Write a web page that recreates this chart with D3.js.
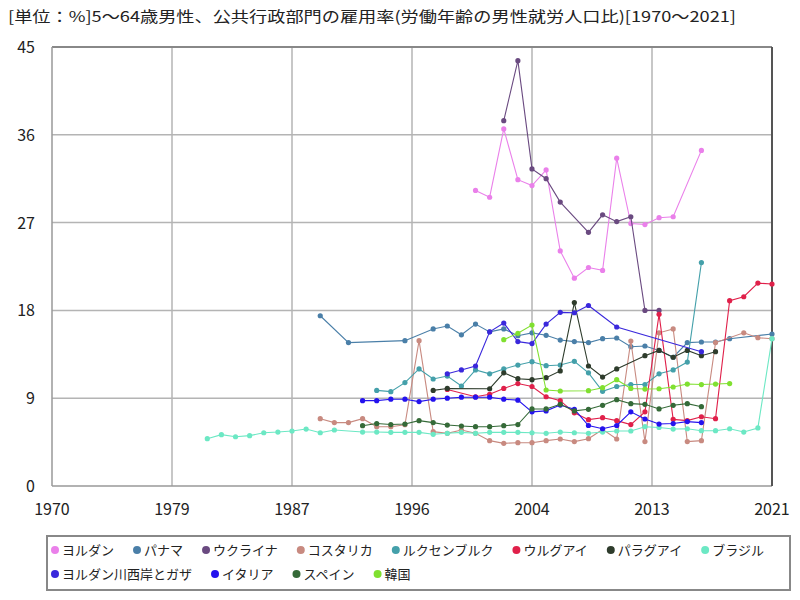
<!DOCTYPE html>
<html lang="ja">
<head>
  <meta charset="UTF-8" />
  <title>公共行政部門の雇用率</title>
  <script src="https://d3js.org/d3.v7.min.js"></script>
  <style>
    body { margin: 0; background: #fff; font-family: 'Noto Sans CJK JP', sans-serif; }
    .grid line { stroke: #b4b4b4; stroke-width: 1.5; }
    .tick-label { font-size: 16px; fill: #222; }
    .legend-text { font-size: 13px; fill: #222; }
  </style>
</head>
<body>
  <svg id="chart" width="800" height="600"></svg>

  <script>
    // year/value pairs (%)
    const jordan = [[2000,30.3],[2001,29.6],[2002,36.6],[2003,31.4],[2004,30.8],[2005,32.4],[2006,24.1],[2007,21.3],[2008,22.4],[2009,22.1],[2010,33.6],[2011,26.9],[2012,26.8],[2013,27.5],[2014,27.6],[2016,34.4]];
    const panama = [[1989,17.45],[1991,14.7],[1995,14.9],[1997,16.1],[1998,16.4],[1999,15.5],[2000,16.6],[2001,15.8],[2002,16.1],[2003,15.4],[2004,15.7],[2005,15.45],[2006,14.96],[2007,14.8],[2008,14.7],[2009,15.1],[2010,15.17],[2011,14.28],[2012,14.35],[2013,13.9],[2014,13.2],[2015,14.7],[2016,14.76],[2017,14.76],[2018,15.1],[2021,15.58]];
    const ukraine = [[2002,37.45],[2003,43.6],[2004,32.5],[2005,31.5],[2006,29.1],[2008,26.0],[2009,27.8],[2010,27.1],[2011,27.6],[2012,18.0],[2013,18.0]];
    const costaRica = [[1989,6.9],[1990,6.5],[1991,6.5],[1992,6.9],[1993,6.08],[1994,6.08],[1995,6.28],[1996,14.9],[1997,5.57],[1998,5.4],[1999,5.74],[2000,5.4],[2001,4.65],[2002,4.37],[2003,4.44],[2004,4.44],[2005,4.65],[2006,4.82],[2007,4.55],[2008,4.85],[2009,5.8],[2010,4.82],[2011,14.86],[2012,4.55],[2013,15.7],[2014,16.1],[2015,4.55],[2016,4.65],[2017,14.7],[2019,15.7],[2020,15.2],[2021,15.1]];
    const luxembourg = [[1993,9.8],[1994,9.67],[1995,10.6],[1996,12.0],[1997,10.97],[1998,11.27],[1999,10.25],[2000,11.9],[2001,11.5],[2002,12.0],[2003,12.4],[2004,12.74],[2005,12.33],[2006,12.4],[2007,12.78],[2008,11.6],[2009,9.7],[2010,10.2],[2011,10.4],[2012,10.4],[2013,11.5],[2014,11.9],[2015,12.7],[2016,22.9]];
    const uruguay = [[1998,9.9],[2000,9.15],[2001,9.4],[2002,10.0],[2003,10.5],[2004,10.2],[2005,9.15],[2006,8.75],[2007,7.5],[2008,6.8],[2009,7.0],[2010,6.7],[2011,6.3],[2012,7.6],[2013,17.6],[2014,6.83],[2015,6.7],[2016,7.1],[2017,6.9],[2018,19.0],[2019,19.4],[2020,20.8],[2021,20.7]];
    const paraguay = [[1997,9.8],[1998,10.0],[2001,9.97],[2002,11.6],[2003,11.0],[2004,10.9],[2005,11.1],[2006,11.8],[2007,18.8],[2008,12.3],[2009,11.17],[2010,12.0],[2012,13.36],[2013,13.9],[2014,13.2],[2015,13.9],[2016,13.36],[2017,13.77]];
    const brazil = [[1981,4.85],[1982,5.26],[1983,5.05],[1984,5.16],[1985,5.46],[1986,5.53],[1987,5.64],[1988,5.84],[1989,5.46],[1990,5.74],[1992,5.53],[1993,5.53],[1994,5.5],[1995,5.5],[1996,5.5],[1997,5.3],[1998,5.4],[1999,5.5],[2000,5.4],[2001,5.5],[2002,5.5],[2003,5.5],[2004,5.46],[2005,5.4],[2006,5.53],[2007,5.46],[2008,5.4],[2009,5.53],[2010,5.64],[2011,5.64],[2012,6.08],[2013,6.0],[2014,5.84],[2015,5.87],[2016,5.67],[2017,5.67],[2018,5.87],[2019,5.53],[2020,5.95],[2021,15.1]];
    const westBankGaza = [[1998,11.5],[1999,11.9],[2000,12.3],[2001,15.8],[2002,16.7],[2003,14.8],[2004,14.6],[2005,16.6],[2006,17.8],[2007,17.76],[2008,18.5],[2010,16.3],[2016,13.77]];
    const italy = [[1992,8.75],[1993,8.75],[1994,8.9],[1995,8.9],[1996,8.65],[1997,8.9],[1998,9.0],[1999,9.1],[2000,9.1],[2001,9.1],[2002,8.9],[2003,8.8],[2004,7.6],[2005,7.7],[2006,8.3],[2007,7.86],[2008,6.2],[2009,5.87],[2010,6.2],[2011,7.6],[2012,6.87],[2013,6.35],[2014,6.4],[2015,6.6],[2016,6.5]];
    const spain = [[1992,6.18],[1993,6.4],[1994,6.3],[1995,6.35],[1996,6.7],[1997,6.5],[1998,6.25],[1999,6.15],[2000,6.08],[2001,6.08],[2002,6.18],[2003,6.3],[2004,7.9],[2005,7.9],[2006,8.37],[2007,7.7],[2008,7.86],[2009,8.27],[2010,8.85],[2011,8.44],[2012,8.37],[2013,7.9],[2014,8.27],[2015,8.44],[2016,8.13]];
    const korea = [[2002,15.0],[2003,15.65],[2004,16.5],[2005,9.84],[2006,9.74],[2008,9.77],[2009,10.08],[2010,10.9],[2011,10.0],[2012,9.94],[2013,9.97],[2014,10.15],[2015,10.45],[2016,10.4],[2017,10.45],[2018,10.5]];

    const seriesNames = ["ヨルダン","パナマ","ウクライナ","コスタリカ","ルクセンブルク","ウルグアイ","パラグアイ","ブラジル","ヨルダン川西岸とガザ","イタリア","スペイン","韓国"];
    const seriesData = [jordan, panama, ukraine, costaRica, luxembourg, uruguay, paraguay, brazil, westBankGaza, italy, spain, korea];
    const seriesColors = ["#ea80ea","#4a7fa8","#6a4a80","#c88a80","#44a0aa","#e0204a","#2e3c2c","#6ce8c4","#3a28dc","#2412ee","#356a38","#80e030"];

    const xTicks = [1970, 1978.5, 1987, 1995.5, 2004, 2012.5, 2021];
    const yTicks = [0, 9, 18, 27, 36, 45];

    const svg = d3.select('#chart');
    const plotLeft = 52, plotRight = 772, plotTop = 47, plotBottom = 486;

    const x = d3.scaleLinear().domain([1970, 2021]).range([plotLeft, plotRight]);
    const y = d3.scaleLinear().domain([0, 45]).range([plotBottom, plotTop]);

    // title
    svg.append('text')
      .attr('x', 8).attr('y', 22)
      .attr('font-size', 15)
      .attr('textLength', 728)
      .attr('lengthAdjust', 'spacingAndGlyphs')
      .attr('fill', '#222')
      .text('[単位：%]5～64歳男性、公共行政部門の雇用率(労働年齢の男性就労人口比)[1970～2021]');

    // grid
    const grid = svg.append('g').attr('class', 'grid');
    grid.selectAll('.vx').data(xTicks.slice(1, -1)).join('line')
      .attr('x1', d => x(d)).attr('x2', d => x(d))
      .attr('y1', plotTop).attr('y2', plotBottom);
    grid.selectAll('.hy').data(yTicks.slice(1, -1)).join('line')
      .attr('x1', plotLeft).attr('x2', plotRight)
      .attr('y1', d => y(d)).attr('y2', d => y(d));

    // frame
    svg.append('line').attr('x1', plotLeft).attr('x2', plotRight).attr('y1', plotTop).attr('y2', plotTop)
      .attr('stroke', '#888').attr('stroke-width', 2);
    svg.append('line').attr('x1', plotLeft).attr('x2', plotLeft).attr('y1', plotTop).attr('y2', plotBottom)
      .attr('stroke', '#999').attr('stroke-width', 1.5);
    svg.append('line').attr('x1', plotLeft).attr('x2', plotRight).attr('y1', plotBottom).attr('y2', plotBottom)
      .attr('stroke', '#999').attr('stroke-width', 1.5);
    svg.append('line').attr('x1', plotRight).attr('x2', plotRight).attr('y1', plotTop).attr('y2', plotBottom)
      .attr('stroke', '#555').attr('stroke-width', 2);

    // tick labels
    svg.selectAll('.ylab').data(yTicks).join('text')
      .attr('class', 'tick-label')
      .attr('x', 35).attr('y', d => y(d) + 6)
      .attr('text-anchor', 'end')
      .text(d => d);
    svg.selectAll('.xlab').data(xTicks).join('text')
      .attr('class', 'tick-label')
      .attr('x', d => x(d)).attr('y', 515)
      .attr('text-anchor', 'middle')
      .text(d => Math.round(d));

    // series
    const line = d3.line().x(d => x(d[0])).y(d => y(d[1]));
    const plot = svg.append('g');
    seriesData.forEach((data, i) => {
      const g = plot.append('g');
      g.append('path')
        .attr('d', line(data))
        .attr('fill', 'none')
        .attr('stroke', seriesColors[i])
        .attr('stroke-width', 1.1);
      g.selectAll('circle').data(data).join('circle')
        .attr('cx', d => x(d[0])).attr('cy', d => y(d[1]))
        .attr('r', 2.6)
        .attr('fill', seriesColors[i]);
    });

    // legend
    const legend = svg.append('g');
    legend.append('rect')
      .attr('x', 47).attr('y', 536).attr('width', 743).attr('height', 54)
      .attr('fill', '#fff').attr('stroke', '#888').attr('stroke-width', 2);
    const rows = [[0,1,2,3,4,5,6,7],[8,9,10,11]];
    rows.forEach((row, r) => {
      let cx = 55;
      const cy = 550 + r * 24;
      row.forEach(i => {
        legend.append('circle').attr('cx', cx).attr('cy', cy).attr('r', 4).attr('fill', seriesColors[i]);
        const t = legend.append('text')
          .attr('class', 'legend-text')
          .attr('x', cx + 7).attr('y', cy + 5)
          .text(seriesNames[i]);
        cx += 7 + t.node().getComputedTextLength() + 23;
      });
    });
  </script>
</body>
</html>
